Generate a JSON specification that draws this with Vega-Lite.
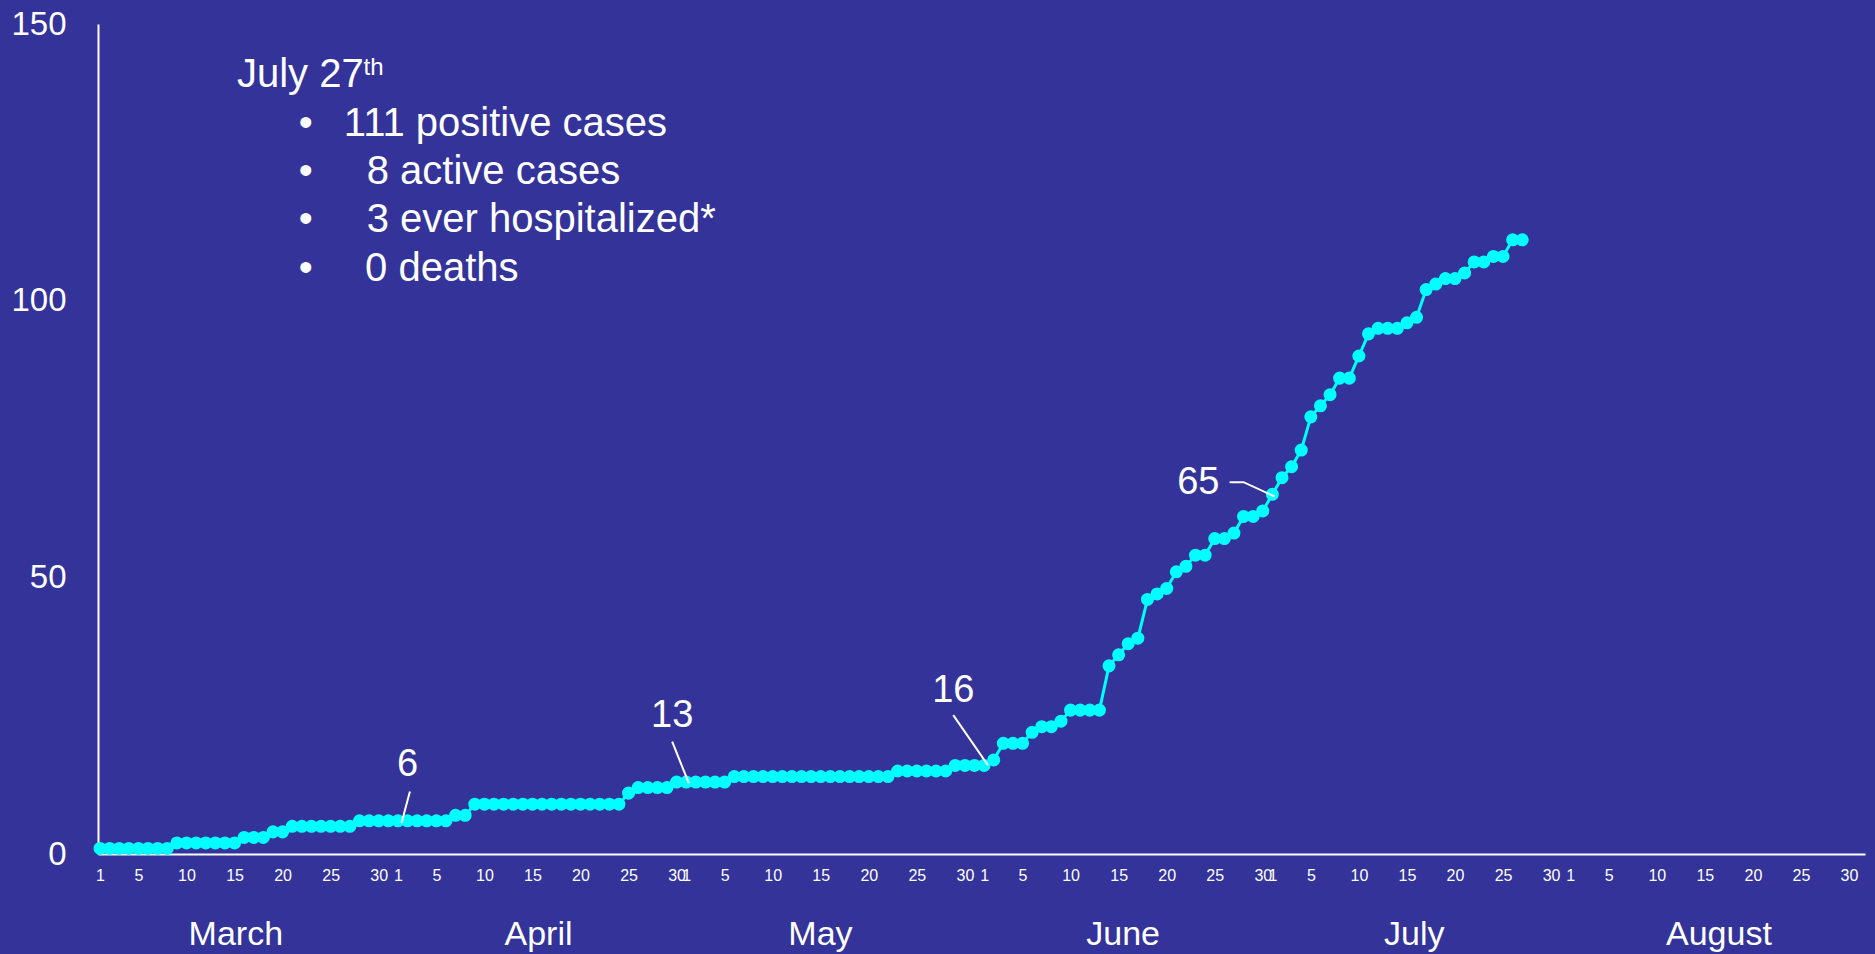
{
  "$schema": "https://vega.github.io/schema/vega-lite/v6.json",
  "width": 1767,
  "height": 830,
  "autosize": {"type": "none"},
  "padding": {"left": 98, "top": 24, "right": 10, "bottom": 100},
  "background": "#333399",
  "config": {
    "view": {"stroke": null},
    "font": "Liberation Sans",
    "text": {"font": "Liberation Sans"}
  },
  "datasets": {
    "cases": [
      {"date": "2020-03-01", "cases": 1}, {"date": "2020-03-02", "cases": 1}, {"date": "2020-03-03", "cases": 1}, {"date": "2020-03-04", "cases": 1},
      {"date": "2020-03-05", "cases": 1}, {"date": "2020-03-06", "cases": 1}, {"date": "2020-03-07", "cases": 1}, {"date": "2020-03-08", "cases": 1},
      {"date": "2020-03-09", "cases": 2}, {"date": "2020-03-10", "cases": 2}, {"date": "2020-03-11", "cases": 2}, {"date": "2020-03-12", "cases": 2},
      {"date": "2020-03-13", "cases": 2}, {"date": "2020-03-14", "cases": 2}, {"date": "2020-03-15", "cases": 2}, {"date": "2020-03-16", "cases": 3},
      {"date": "2020-03-17", "cases": 3}, {"date": "2020-03-18", "cases": 3}, {"date": "2020-03-19", "cases": 4}, {"date": "2020-03-20", "cases": 4},
      {"date": "2020-03-21", "cases": 5}, {"date": "2020-03-22", "cases": 5}, {"date": "2020-03-23", "cases": 5}, {"date": "2020-03-24", "cases": 5},
      {"date": "2020-03-25", "cases": 5}, {"date": "2020-03-26", "cases": 5}, {"date": "2020-03-27", "cases": 5}, {"date": "2020-03-28", "cases": 6},
      {"date": "2020-03-29", "cases": 6}, {"date": "2020-03-30", "cases": 6}, {"date": "2020-03-31", "cases": 6}, {"date": "2020-04-01", "cases": 6},
      {"date": "2020-04-02", "cases": 6}, {"date": "2020-04-03", "cases": 6}, {"date": "2020-04-04", "cases": 6}, {"date": "2020-04-05", "cases": 6},
      {"date": "2020-04-06", "cases": 6}, {"date": "2020-04-07", "cases": 7}, {"date": "2020-04-08", "cases": 7}, {"date": "2020-04-09", "cases": 9},
      {"date": "2020-04-10", "cases": 9}, {"date": "2020-04-11", "cases": 9}, {"date": "2020-04-12", "cases": 9}, {"date": "2020-04-13", "cases": 9},
      {"date": "2020-04-14", "cases": 9}, {"date": "2020-04-15", "cases": 9}, {"date": "2020-04-16", "cases": 9}, {"date": "2020-04-17", "cases": 9},
      {"date": "2020-04-18", "cases": 9}, {"date": "2020-04-19", "cases": 9}, {"date": "2020-04-20", "cases": 9}, {"date": "2020-04-21", "cases": 9},
      {"date": "2020-04-22", "cases": 9}, {"date": "2020-04-23", "cases": 9}, {"date": "2020-04-24", "cases": 9}, {"date": "2020-04-25", "cases": 11},
      {"date": "2020-04-26", "cases": 12}, {"date": "2020-04-27", "cases": 12}, {"date": "2020-04-28", "cases": 12}, {"date": "2020-04-29", "cases": 12},
      {"date": "2020-04-30", "cases": 13}, {"date": "2020-05-01", "cases": 13}, {"date": "2020-05-02", "cases": 13}, {"date": "2020-05-03", "cases": 13},
      {"date": "2020-05-04", "cases": 13}, {"date": "2020-05-05", "cases": 13}, {"date": "2020-05-06", "cases": 14}, {"date": "2020-05-07", "cases": 14},
      {"date": "2020-05-08", "cases": 14}, {"date": "2020-05-09", "cases": 14}, {"date": "2020-05-10", "cases": 14}, {"date": "2020-05-11", "cases": 14},
      {"date": "2020-05-12", "cases": 14}, {"date": "2020-05-13", "cases": 14}, {"date": "2020-05-14", "cases": 14}, {"date": "2020-05-15", "cases": 14},
      {"date": "2020-05-16", "cases": 14}, {"date": "2020-05-17", "cases": 14}, {"date": "2020-05-18", "cases": 14}, {"date": "2020-05-19", "cases": 14},
      {"date": "2020-05-20", "cases": 14}, {"date": "2020-05-21", "cases": 14}, {"date": "2020-05-22", "cases": 14}, {"date": "2020-05-23", "cases": 15},
      {"date": "2020-05-24", "cases": 15}, {"date": "2020-05-25", "cases": 15}, {"date": "2020-05-26", "cases": 15}, {"date": "2020-05-27", "cases": 15},
      {"date": "2020-05-28", "cases": 15}, {"date": "2020-05-29", "cases": 16}, {"date": "2020-05-30", "cases": 16}, {"date": "2020-05-31", "cases": 16},
      {"date": "2020-06-01", "cases": 16}, {"date": "2020-06-02", "cases": 17}, {"date": "2020-06-03", "cases": 20}, {"date": "2020-06-04", "cases": 20},
      {"date": "2020-06-05", "cases": 20}, {"date": "2020-06-06", "cases": 22}, {"date": "2020-06-07", "cases": 23}, {"date": "2020-06-08", "cases": 23},
      {"date": "2020-06-09", "cases": 24}, {"date": "2020-06-10", "cases": 26}, {"date": "2020-06-11", "cases": 26}, {"date": "2020-06-12", "cases": 26},
      {"date": "2020-06-13", "cases": 26}, {"date": "2020-06-14", "cases": 34}, {"date": "2020-06-15", "cases": 36}, {"date": "2020-06-16", "cases": 38},
      {"date": "2020-06-17", "cases": 39}, {"date": "2020-06-18", "cases": 46}, {"date": "2020-06-19", "cases": 47}, {"date": "2020-06-20", "cases": 48},
      {"date": "2020-06-21", "cases": 51}, {"date": "2020-06-22", "cases": 52}, {"date": "2020-06-23", "cases": 54}, {"date": "2020-06-24", "cases": 54},
      {"date": "2020-06-25", "cases": 57}, {"date": "2020-06-26", "cases": 57}, {"date": "2020-06-27", "cases": 58}, {"date": "2020-06-28", "cases": 61},
      {"date": "2020-06-29", "cases": 61}, {"date": "2020-06-30", "cases": 62}, {"date": "2020-07-01", "cases": 65}, {"date": "2020-07-02", "cases": 68},
      {"date": "2020-07-03", "cases": 70}, {"date": "2020-07-04", "cases": 73}, {"date": "2020-07-05", "cases": 79}, {"date": "2020-07-06", "cases": 81},
      {"date": "2020-07-07", "cases": 83}, {"date": "2020-07-08", "cases": 86}, {"date": "2020-07-09", "cases": 86}, {"date": "2020-07-10", "cases": 90},
      {"date": "2020-07-11", "cases": 94}, {"date": "2020-07-12", "cases": 95}, {"date": "2020-07-13", "cases": 95}, {"date": "2020-07-14", "cases": 95},
      {"date": "2020-07-15", "cases": 96}, {"date": "2020-07-16", "cases": 97}, {"date": "2020-07-17", "cases": 102}, {"date": "2020-07-18", "cases": 103},
      {"date": "2020-07-19", "cases": 104}, {"date": "2020-07-20", "cases": 104}, {"date": "2020-07-21", "cases": 105}, {"date": "2020-07-22", "cases": 107},
      {"date": "2020-07-23", "cases": 107}, {"date": "2020-07-24", "cases": 108}, {"date": "2020-07-25", "cases": 108}, {"date": "2020-07-26", "cases": 111},
      {"date": "2020-07-27", "cases": 111}
    ],
    "callouts": [
      {"label": "6", "date": "2020-04-02T00:00:00Z", "value": 16.1},
      {"label": "13", "date": "2020-04-29T13:00:00Z", "value": 24.9},
      {"label": "16", "date": "2020-05-28T19:00:00Z", "value": 29.5},
      {"label": "65", "date": "2020-06-23T07:00:00Z", "value": 67.0}
    ],
    "leaders": [
      {"id": "6", "seq": 1, "date": "2020-04-02T06:00:00Z", "value": 11.3},
      {"id": "6", "seq": 2, "date": "2020-04-01T09:00:00Z", "value": 5.6},
      {"id": "13", "seq": 1, "date": "2020-04-29T13:00:00Z", "value": 20.3},
      {"id": "13", "seq": 2, "date": "2020-05-01T06:30:00Z", "value": 12.8},
      {"id": "16", "seq": 1, "date": "2020-05-28T19:00:00Z", "value": 25.1},
      {"id": "16", "seq": 2, "date": "2020-06-01T10:00:00Z", "value": 16.0},
      {"id": "65", "seq": 1, "date": "2020-06-26T13:00:00Z", "value": 67.2},
      {"id": "65", "seq": 2, "date": "2020-06-28T00:00:00Z", "value": 67.2},
      {"id": "65", "seq": 3, "date": "2020-07-01T06:00:00Z", "value": 64.6}
    ],
    "heading": [
      {"text": "July 27", "date": "2020-03-15T06:00:00Z", "value": 140.7}
    ],
    "superscript": [
      {"text": "th", "date": "2020-03-28T10:00:00Z", "value": 142.0}
    ],
    "bullets": [
      {"text": "•", "date": "2020-03-22T10:00:00Z", "value": 132.0},
      {"text": "•", "date": "2020-03-22T10:00:00Z", "value": 123.3},
      {"text": "•", "date": "2020-03-22T10:00:00Z", "value": 114.6},
      {"text": "•", "date": "2020-03-22T10:00:00Z", "value": 105.7}
    ],
    "facts": [
      {"text": "111 positive cases", "date": "2020-03-26T09:00:00Z", "value": 132.0},
      {"text": "8 active cases", "date": "2020-03-28T18:00:00Z", "value": 123.3},
      {"text": "3 ever hospitalized*", "date": "2020-03-28T18:00:00Z", "value": 114.6},
      {"text": "0 deaths", "date": "2020-03-28T14:00:00Z", "value": 105.7}
    ]
  },
  "layer": [
    {
      "data": {"name": "cases"},
      "mark": {"type": "line", "color": "#00FFFF", "strokeWidth": 3},
      "encoding": {
        "x": {
          "field": "date",
          "type": "temporal",
          "scale": {
            "type": "utc",
            "domain": [
              {"year": 2020, "month": 2, "date": 29, "hours": 19, "utc": true},
              {"year": 2020, "month": 8, "date": 31, "hours": 16, "utc": true}
            ]
          },
          "axis": {
            "orient": "bottom",
            "title": null,
            "values": [
              {"year": 2020, "month": 3, "date": 1, "utc": true}, {"year": 2020, "month": 3, "date": 5, "utc": true}, {"year": 2020, "month": 3, "date": 10, "utc": true},
              {"year": 2020, "month": 3, "date": 15, "utc": true}, {"year": 2020, "month": 3, "date": 20, "utc": true}, {"year": 2020, "month": 3, "date": 25, "utc": true},
              {"year": 2020, "month": 3, "date": 30, "utc": true},
              {"year": 2020, "month": 4, "date": 1, "utc": true}, {"year": 2020, "month": 4, "date": 5, "utc": true}, {"year": 2020, "month": 4, "date": 10, "utc": true},
              {"year": 2020, "month": 4, "date": 15, "utc": true}, {"year": 2020, "month": 4, "date": 20, "utc": true}, {"year": 2020, "month": 4, "date": 25, "utc": true},
              {"year": 2020, "month": 4, "date": 30, "utc": true},
              {"year": 2020, "month": 5, "date": 1, "utc": true}, {"year": 2020, "month": 5, "date": 5, "utc": true}, {"year": 2020, "month": 5, "date": 10, "utc": true},
              {"year": 2020, "month": 5, "date": 15, "utc": true}, {"year": 2020, "month": 5, "date": 20, "utc": true}, {"year": 2020, "month": 5, "date": 25, "utc": true},
              {"year": 2020, "month": 5, "date": 30, "utc": true},
              {"year": 2020, "month": 6, "date": 1, "utc": true}, {"year": 2020, "month": 6, "date": 5, "utc": true}, {"year": 2020, "month": 6, "date": 10, "utc": true},
              {"year": 2020, "month": 6, "date": 15, "utc": true}, {"year": 2020, "month": 6, "date": 20, "utc": true}, {"year": 2020, "month": 6, "date": 25, "utc": true},
              {"year": 2020, "month": 6, "date": 30, "utc": true},
              {"year": 2020, "month": 7, "date": 1, "utc": true}, {"year": 2020, "month": 7, "date": 5, "utc": true}, {"year": 2020, "month": 7, "date": 10, "utc": true},
              {"year": 2020, "month": 7, "date": 15, "utc": true}, {"year": 2020, "month": 7, "date": 20, "utc": true}, {"year": 2020, "month": 7, "date": 25, "utc": true},
              {"year": 2020, "month": 7, "date": 30, "utc": true},
              {"year": 2020, "month": 8, "date": 1, "utc": true}, {"year": 2020, "month": 8, "date": 5, "utc": true}, {"year": 2020, "month": 8, "date": 10, "utc": true},
              {"year": 2020, "month": 8, "date": 15, "utc": true}, {"year": 2020, "month": 8, "date": 20, "utc": true}, {"year": 2020, "month": 8, "date": 25, "utc": true},
              {"year": 2020, "month": 8, "date": 30, "utc": true}
            ],
            "labelExpr": "utcdate(datum.value)",
            "ticks": false,
            "tickSize": 0,
            "grid": false,
            "domainColor": "#FFFFFF",
            "domainWidth": 2,
            "labelColor": "#FFFFFF",
            "labelFont": "Liberation Sans",
            "labelFontSize": 16,
            "labelPadding": 13,
            "labelOverlap": false,
            "labelFlush": false,
            "labelBound": false
          }
        },
        "y": {
          "field": "cases",
          "type": "quantitative",
          "scale": {"domain": [0, 150], "nice": false, "zero": true},
          "axis": {
            "orient": "left",
            "title": null,
            "values": [0, 50, 100, 150],
            "ticks": false,
            "tickSize": 0,
            "grid": false,
            "domainColor": "#FFFFFF",
            "domainWidth": 2,
            "labelColor": "#FFFFFF",
            "labelFont": "Liberation Sans",
            "labelFontSize": 33,
            "labelPadding": 32,
            "labelOverlap": false,
            "labelFlush": false,
            "labelBound": false
          }
        }
      }
    },
    {
      "data": {"name": "cases"},
      "mark": {"type": "circle", "color": "#00FFFF", "opacity": 1, "size": 170},
      "encoding": {
        "x": {
          "field": "date",
          "type": "temporal",
          "axis": {
            "orient": "bottom",
            "title": null,
            "values": [
              {"year": 2020, "month": 3, "date": 15, "hours": 2, "utc": true},
              {"year": 2020, "month": 4, "date": 15, "hours": 14, "utc": true},
              {"year": 2020, "month": 5, "date": 14, "hours": 22, "utc": true},
              {"year": 2020, "month": 6, "date": 15, "hours": 10, "utc": true},
              {"year": 2020, "month": 7, "date": 15, "hours": 17, "utc": true},
              {"year": 2020, "month": 8, "date": 16, "hours": 10, "utc": true}
            ],
            "labelExpr": "utcFormat(datum.value, '%B')",
            "ticks": false,
            "tickSize": 0,
            "domain": false,
            "grid": false,
            "labelColor": "#FFFFFF",
            "labelFont": "Liberation Sans",
            "labelFontSize": 34,
            "labelPadding": 63,
            "labelOverlap": false,
            "labelFlush": false,
            "labelBound": false
          }
        },
        "y": {"field": "cases", "type": "quantitative", "axis": null}
      }
    },
    {
      "data": {"name": "leaders"},
      "mark": {"type": "line", "color": "#FFFFFF", "strokeWidth": 2},
      "encoding": {
        "x": {"field": "date", "type": "temporal", "axis": null},
        "y": {"field": "value", "type": "quantitative", "axis": null},
        "detail": {"field": "id"},
        "order": {"field": "seq"}
      }
    },
    {
      "data": {"name": "callouts"},
      "mark": {"type": "text", "color": "#FFFFFF", "fontSize": 38, "align": "center", "baseline": "middle"},
      "encoding": {
        "x": {"field": "date", "type": "temporal", "axis": null},
        "y": {"field": "value", "type": "quantitative", "axis": null},
        "text": {"field": "label"}
      }
    },
    {
      "data": {"name": "heading"},
      "mark": {"type": "text", "color": "#FFFFFF", "fontSize": 40, "align": "left", "baseline": "middle"},
      "encoding": {
        "x": {"field": "date", "type": "temporal", "axis": null},
        "y": {"field": "value", "type": "quantitative", "axis": null},
        "text": {"field": "text"}
      }
    },
    {
      "data": {"name": "superscript"},
      "mark": {"type": "text", "color": "#FFFFFF", "fontSize": 24, "align": "left", "baseline": "middle"},
      "encoding": {
        "x": {"field": "date", "type": "temporal", "axis": null},
        "y": {"field": "value", "type": "quantitative", "axis": null},
        "text": {"field": "text"}
      }
    },
    {
      "data": {"name": "bullets"},
      "mark": {"type": "text", "color": "#FFFFFF", "fontSize": 40, "align": "center", "baseline": "middle"},
      "encoding": {
        "x": {"field": "date", "type": "temporal", "axis": null},
        "y": {"field": "value", "type": "quantitative", "axis": null},
        "text": {"field": "text"}
      }
    },
    {
      "data": {"name": "facts"},
      "mark": {"type": "text", "color": "#FFFFFF", "fontSize": 40, "align": "left", "baseline": "middle"},
      "encoding": {
        "x": {"field": "date", "type": "temporal", "axis": null},
        "y": {"field": "value", "type": "quantitative", "axis": null},
        "text": {"field": "text"}
      }
    }
  ],
  "resolve": {"axis": {"x": "independent", "y": "independent"}}
}
